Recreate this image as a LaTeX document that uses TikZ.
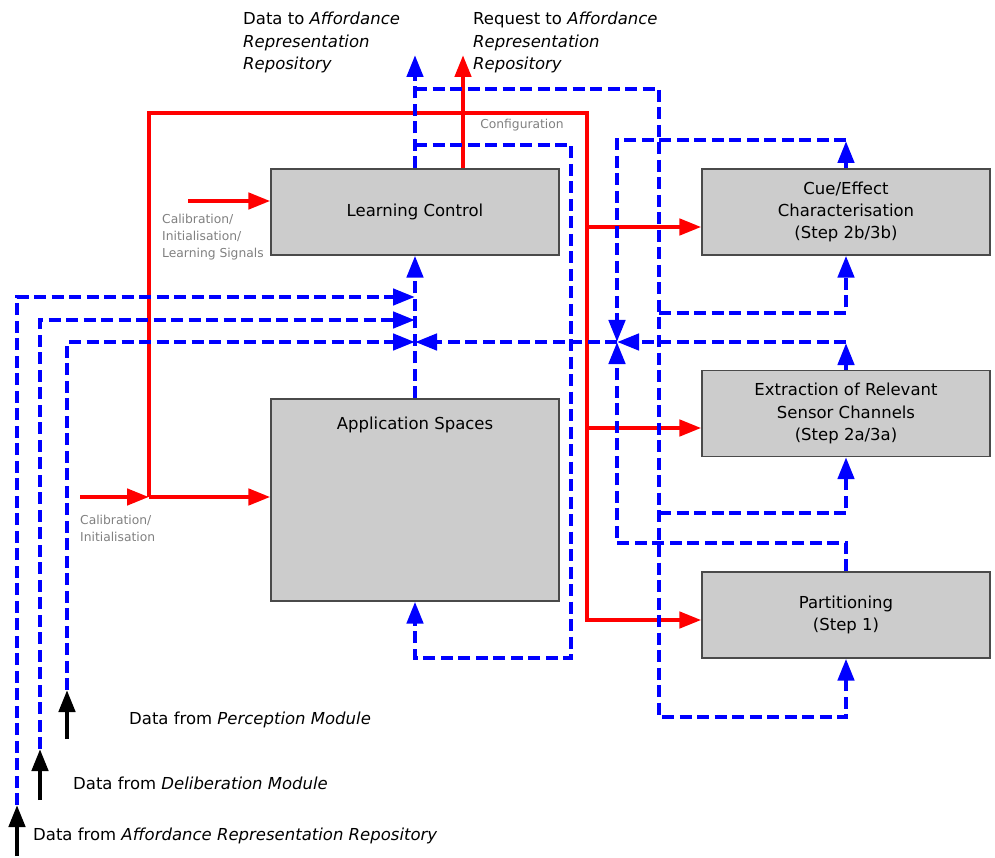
\documentclass[tikz,border=0pt]{standalone}
\usepackage{fontspec,xcolor,tikz}
\setmainfont{DejaVu Sans}
\usetikzlibrary{arrows.meta,calc}
\definecolor{boxgrau}{HTML}{CCCCCC}
\definecolor{rahmen}{HTML}{4A4A4A}
\definecolor{steuerrot}{HTML}{FF0000}
\definecolor{datenblau}{HTML}{0000FF}
\definecolor{notiz}{HTML}{808080}
\newcommand{\modtxt}{\fontsize{16.5}{22.3}\selectfont}
\newcommand{\lbl}{\fontsize{12.3}{17}\selectfont}
\tikzset{modul/.style={draw=rahmen,fill=boxgrau,line width=1.2pt,minimum width=288pt,
    minimum height=86pt,inner sep=0,align=center,font=\modtxt},
  rotlinie/.style={steuerrot,line width=4.5pt},
  rotpfeil/.style={rotlinie,-{Triangle[length=22pt,width=16pt]}},
  blaulinie/.style={datenblau,line width=4.5pt,dash pattern=on 12pt off 5.5pt},
  blaupfeil/.style={blaulinie,-{Triangle[length=22pt,width=16pt]}},
  schwarzpfeil/.style={black,line width=4.5pt,-{Triangle[length=22pt,width=16pt]}},
  hinweis/.style={inner sep=0,text=notiz,font=\lbl,align=left},
  beschr/.style={inner sep=0,font=\modtxt,align=left}}

\begin{document}
\begin{tikzpicture}[x=1pt,y=-1pt]
\useasboundingbox (0,0) rectangle (995,858);
% Module links (Steuerung, Anwendungsraeume) und rechts (Schritte 1 bis 3)
\node[modul] (lc) at (415,212) {Learning Control};
\node[modul,minimum height=202pt,label={[anchor=north,inner sep=0,yshift=-18pt,font=\modtxt]north:Application Spaces}] (as) at (415,500) {};
\node[modul] (cue) at (846,212) {Cue/Effect\\Characterisation\\(Step 2b/3b)};
\node[modul] (ext) at (846,413.5) {Extraction of Relevant\\Sensor Channels\\(Step 2a/3a)};
\node[modul] (part) at (846,615) {Partitioning\\(Step 1)};
\coordinate (datoben) at (415,55);
\coordinate (anfoben) at (463,55);
\coordinate (knotenl) at (415,342);
\coordinate (knotenr) at (617,342);
\coordinate (rotknoten) at (149,497);
\coordinate (einar) at (17,805);
\coordinate (eindl) at (40,749);
\coordinate (einpm) at (67,690);
% Beschriftungen
\node[beschr,anchor=north west] (zielda) at (243,12) {Data to \textit{Affordance}\\\textit{Representation}\\\textit{Repository}};
\node[beschr,anchor=north west] (zielan) at (473,12) {Request to \textit{Affordance}\\\textit{Representation}\\\textit{Repository}};
\node[hinweis,anchor=north west] (lblsig) at (162,214) {Calibration/\\Initialisation/\\Learning Signals};
\node[hinweis,anchor=north west] (lblkal) at (80,515) {Calibration/\\Initialisation};
\node[hinweis] (lblkonf) at (522,125) {Configuration};
\node[beschr,anchor=west] (lblpm) at (129,720) {Data from \textit{Perception Module}};
\node[beschr,anchor=west] (lbldl) at (73,783) {Data from \textit{Deliberation Module}};
\node[beschr,anchor=west] (lblar) at (33,836) {Data from \textit{Affordance Representation Repository}};
% rote Steuerpfade
\draw[rotpfeil] (lc.north -| anfoben) -- (anfoben);
\draw[rotpfeil] (188,201) -- (lc.west |- 0,201);
\draw[rotpfeil] (80,497) -- (rotknoten);
\draw[rotpfeil] (rotknoten) -- (as.west |- rotknoten);
\draw[rotpfeil] (rotknoten) |- (587,113) -- (587,620) -- (part.west |- 0,620);
\draw[rotpfeil] (587,227) -- (cue.west |- 0,227);
\draw[rotpfeil] (587,428) -- (ext.west |- 0,428);
% blaue Datenpfade
\draw[blaupfeil] (lc.north) -- (datoben);
\draw[blaupfeil] (415,89) -| (659,717) -| (part.south);
\draw[blaupfeil] (659,313) -| (cue.south);
\draw[blaupfeil] (659,513) -| (ext.south);
\draw[blaupfeil] (415,145) -| (571,658) -| (as.south);
\draw[blaupfeil] (cue.north) -- (cue.north |- 0,141);
\draw[blaupfeil] (cue.north |- 0,140) -| (knotenr);
\draw[blaupfeil] (ext.north) -- (ext.north |- 0,343);
\draw[blaupfeil] (ext.north |- knotenr) -- (knotenr);
\draw[blaupfeil] (part.north) |- (617,543) -- (knotenr);
\draw[blaupfeil] (knotenr) -- (knotenl);
\draw[blaupfeil] (as.north) -- (lc.south);
\draw[blaupfeil] (einar) |- (knotenl |- 0,297);
\draw[blaupfeil] (eindl) |- (knotenl |- 0,320);
\draw[blaupfeil] (einpm) |- (knotenl);
% Eingaenge
\draw[schwarzpfeil] (17,856) -- (einar);
\draw[schwarzpfeil] (40,800) -- (eindl);
\draw[schwarzpfeil] (67,739) -- (einpm);
\end{tikzpicture}
\end{document}
